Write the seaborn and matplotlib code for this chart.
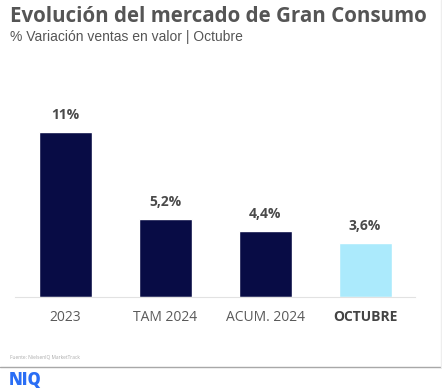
import pandas as pd
import seaborn as sns
from matplotlib import pyplot as plt
from matplotlib.lines import Line2D

categories = ["2023", "TAM 2024", "ACUM. 2024", "OCTUBRE"]
values = [11.0, 5.2, 4.4, 3.6]
value_labels = ["11%", "5,2%", "4,4%", "3,6%"]
bar_colors = ["#080c45", "#080c45", "#080c45", "#abeafc"]

TITLE = "Evolución del mercado de Gran Consumo"
SUBTITLE = "% Variación ventas en valor | Octubre"
SOURCE = "Fuente: NielsenIQ MarketTrack"


def main():
    data = pd.DataFrame({"cat": categories, "val": values})

    sns.set_style("white")
    plt.rcParams['font.family'] = ['Open Sans', 'DejaVu Sans']

    fig = plt.figure(figsize=(4.42, 3.89), dpi=100)
    ax = fig.add_axes([15 / 442, 1 - 296.5 / 389, 400 / 442, 196.5 / 389])

    sns.barplot(data=data, x="cat", y="val", hue="cat", palette=bar_colors,
                width=0.53, legend=False, saturation=1, ax=ax)

    ax.set_xlim(-0.5, 3.5)
    ax.set_ylim(0, 196.5 / 15)
    for s in ["top", "right", "left"]:
        ax.spines[s].set_visible(False)
    ax.spines["bottom"].set_color("#e2e2e2")
    ax.spines["bottom"].set_linewidth(0.8)
    ax.set_yticks([])
    ax.set_xlabel("")
    ax.set_ylabel("")
    ax.tick_params(axis="x", length=0, pad=10, labelsize=10, labelcolor="#5a5a5a")
    for lbl in ax.get_xticklabels():
        if lbl.get_text() == "OCTUBRE":
            lbl.set_fontweight("bold")
            lbl.set_color("#444444")

    for i, (v, t) in enumerate(zip(values, value_labels)):
        ax.annotate(t, (i, v), xytext=(0, 12), textcoords="offset points",
                    ha="center", va="center", fontsize=10, fontweight="bold",
                    color="#4a4a4a")

    fig.text(10 / 442, 1 - 16 / 389, TITLE, fontsize=14.8, fontweight="bold",
             color="#555555", va="center", ha="left")
    fig.text(10 / 442, 1 - 37 / 389, SUBTITLE, fontsize=10, color="#555555",
             va="center", ha="left", family=["Liberation Sans", "DejaVu Sans"])
    fig.text(10 / 442, 1 - 357 / 389, SOURCE, fontsize=3.5, color="#aaaaaa",
             va="center", ha="left")
    fig.add_artist(Line2D([0, 1], [1 - 367 / 389] * 2, color="#a8a8a8", lw=1))
    fig.add_artist(Line2D([440.5 / 442] * 2, [1 - 367 / 389, 1], color="#eeeeee", lw=1))
    fig.text(9 / 442, 1 - 381 / 389, "NIQ", fontsize=12, fontweight="heavy",
             color="#2a6ef5", va="center", ha="left")

    fig.savefig("out.png", dpi=100)


if __name__ == "__main__":
    main()
